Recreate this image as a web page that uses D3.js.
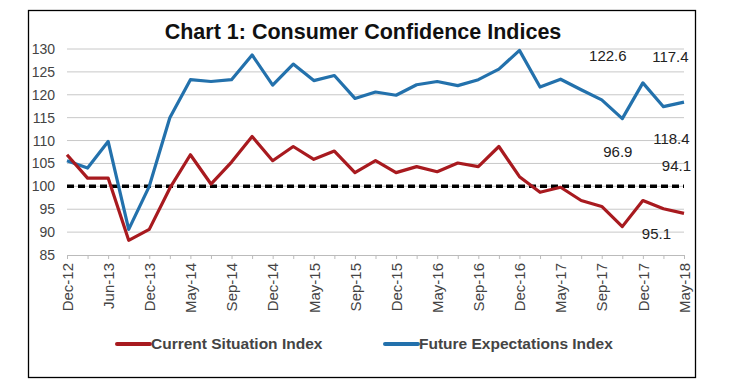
<!DOCTYPE html>
<html>
<head>
<meta charset="utf-8">
<script src="https://cdn.jsdelivr.net/npm/d3@7"></script>
<style>
  body { margin: 0; background: #fff; }
  text { font-family: "Liberation Sans", Arial, sans-serif; }
</style>
</head>
<body>
<svg id="chart"></svg>
<script>
// survey rounds (every other one is labelled on the axis)
const rounds = [
  "Dec-12", "Mar-13", "Jun-13", "Sep-13", "Dec-13", "Mar-14", "May-14", "Jun-14",
  "Sep-14", "Nov-14", "Dec-14", "Mar-15", "May-15", "Jun-15", "Sep-15", "Nov-15",
  "Dec-15", "Mar-16", "May-16", "Jun-16", "Sep-16", "Nov-16", "Dec-16", "Mar-17",
  "May-17", "Jun-17", "Sep-17", "Nov-17", "Dec-17", "Mar-18", "May-18"
];
const currentSituation = [
  106.9, 101.8, 101.8, 88.2, 90.6, 99.6, 106.9, 100.5, 105.3, 110.9, 105.6,
  108.7, 105.9, 107.7, 103.0, 105.6, 103.0, 104.3, 103.2, 105.1, 104.3, 108.7,
  102.1, 98.7, 99.8, 96.9, 95.6, 91.2, 96.9, 95.1, 94.1
];
const futureExpectations = [
  105.6, 104.0, 109.8, 90.6, 100.0, 115.0, 123.3, 122.9, 123.3, 128.7, 122.1,
  126.7, 123.1, 124.2, 119.2, 120.6, 119.9, 122.2, 122.9, 122.0, 123.3, 125.6,
  129.7, 121.7, 123.4, 121.1, 118.9, 114.8, 122.6, 117.4, 118.4
];
const yTicks = [85, 90, 95, 100, 105, 110, 115, 120, 125, 130];
const baseline = 100;
// value call-outs as placed in the original: [text, round, value shown next to]
const callouts = [
  ["122.6", "Dec-17", 128.6],
  ["117.4", "Mar-18", 128.4],
  ["118.4", "Mar-18", 110.3],
  ["96.9", "Dec-17", 107.6],
  ["94.1", "Mar-18", 104.5],
  ["95.1", "Mar-18", 89.6]
];
const calloutDx = [-35, 7, 8, -25, 13, -7];

const W = 732, H = 390;
const margin = { top: 49, right: 48, bottom: 135, left: 67 };
const width = 684 - margin.left;
const height = 255 - margin.top;

const svg = d3.select("#chart").attr("width", W).attr("height", H);

// outer frame
svg.append("rect")
  .attr("x", 28.5).attr("y", 10.5)
  .attr("width", 667).attr("height", 367)
  .attr("fill", "none").attr("stroke", "#000").attr("stroke-width", 1.3);

svg.append("text")
  .attr("x", 363).attr("y", 39)
  .attr("text-anchor", "middle")
  .style("font-size", "21.5px").style("font-weight", "bold")
  .attr("fill", "#111")
  .text("Chart 1: Consumer Confidence Indices");

const g = svg.append("g").attr("transform", `translate(${margin.left},${margin.top})`);

const x = d3.scalePoint().domain(rounds).range([0, width]);
const y = d3.scaleLinear().domain([85, 130]).range([height, 0]);

// gridlines
g.append("g")
  .selectAll("line")
  .data(yTicks.slice(1))
  .join("line")
  .attr("x1", 0).attr("x2", width)
  .attr("y1", d => y(d)).attr("y2", d => y(d))
  .attr("stroke", "#c8c8c8").attr("stroke-width", 1);

// y axis labels
const yAxis = g.append("g")
  .call(d3.axisLeft(y).tickValues(yTicks).tickSize(0).tickPadding(12));
yAxis.select(".domain").remove();
yAxis.selectAll("text")
  .style("font-size", "14px").attr("fill", "#444");

// x axis
const xAxis = g.append("g")
  .attr("transform", `translate(0,${height})`)
  .call(d3.axisBottom(x).tickSize(4).tickFormat((d, i) => i % 2 === 0 ? d : ""));
xAxis.select(".domain").attr("stroke", "#bbb");
xAxis.selectAll(".tick line").attr("stroke", "#bbb");
xAxis.selectAll("text")
  .style("font-size", "15px").attr("fill", "#444")
  .attr("text-anchor", "end")
  .attr("transform", "rotate(-90)")
  .attr("x", -8).attr("y", 0).attr("dy", "0.35em");

// 100 reference line
g.append("line")
  .attr("x1", 0).attr("x2", width)
  .attr("y1", y(baseline)).attr("y2", y(baseline))
  .attr("stroke", "#000").attr("stroke-width", 3.5)
  .attr("stroke-dasharray", "7,4");

const line = d3.line()
  .x((d, i) => x(rounds[i]))
  .y(d => y(d));

g.append("path")
  .datum(futureExpectations)
  .attr("d", line)
  .attr("fill", "none").attr("stroke", "#2371ac")
  .attr("stroke-width", 3.2).attr("stroke-linejoin", "round");

g.append("path")
  .datum(currentSituation)
  .attr("d", line)
  .attr("fill", "none").attr("stroke", "#a81a1f")
  .attr("stroke-width", 3.2).attr("stroke-linejoin", "round");

// call-outs
g.selectAll("text.callout")
  .data(callouts)
  .join("text")
  .attr("class", "callout")
  .attr("x", (d, i) => x(d[1]) + calloutDx[i])
  .attr("y", d => y(d[2]))
  .attr("dy", "0.35em")
  .attr("text-anchor", "middle")
  .style("font-size", "15px").attr("fill", "#222")
  .text(d => d[0]);

// legend
const legendItems = [
  { name: "Current Situation Index", color: "#a81a1f", x: 117 },
  { name: "Future Expectations Index", color: "#2371ac", x: 385 }
];
const legend = svg.selectAll("g.legend")
  .data(legendItems)
  .join("g")
  .attr("class", "legend")
  .attr("transform", d => `translate(${d.x},344)`);
legend.append("line")
  .attr("x1", 0).attr("x2", 33)
  .attr("stroke", d => d.color).attr("stroke-width", 4)
  .attr("stroke-linecap", "round");
legend.append("text")
  .attr("x", 34).attr("dy", "0.35em")
  .style("font-size", "15.5px").style("font-weight", "bold")
  .attr("fill", "#444")
  .text(d => d.name);
</script>
</body>
</html>
